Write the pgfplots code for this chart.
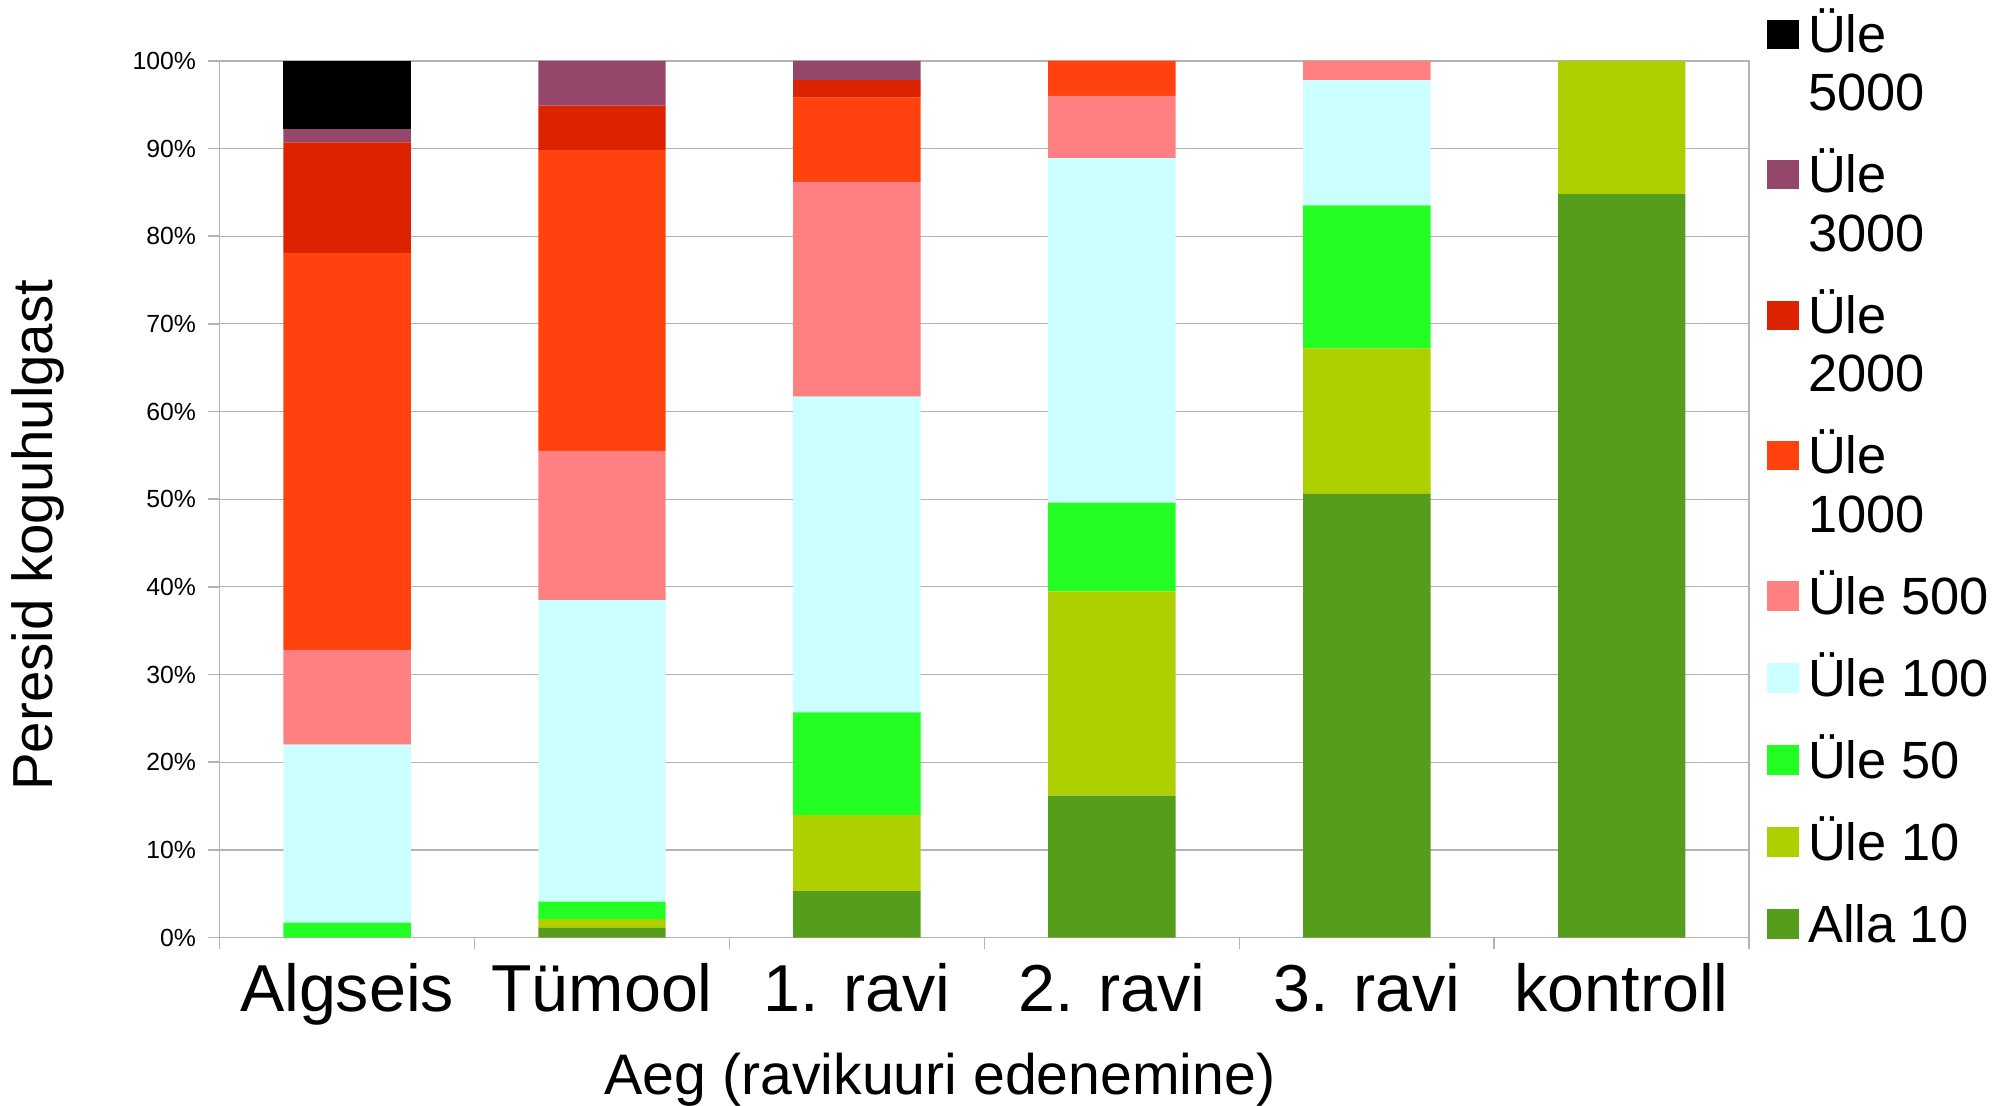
\documentclass[border=0pt]{standalone}
\usepackage{fontspec}
\setmainfont{Liberation Sans}
\usepackage{pgfplots}
\usepackage{pgfplotstable}
\pgfplotsset{compat=1.18}

\definecolor{c5000}{HTML}{000000}
\definecolor{c3000}{HTML}{94476B}
\definecolor{c2000}{HTML}{DC2300}
\definecolor{c1000}{HTML}{FF420E}
\definecolor{c500}{HTML}{FF8080}
\definecolor{c100}{HTML}{CCFFFF}
\definecolor{c50}{HTML}{23FF23}
\definecolor{c10}{HTML}{AECF00}
\definecolor{alla}{HTML}{579D1C}
\definecolor{gridc}{HTML}{B3B3B3}

% shares in percent, bottom (Alla 10) to top (Üle 5000)
\pgfplotstableread{
x alla u10  u50  u100 u500 u1000 u2000 u3000 u5000
0 0    0    1.7  20.3 10.8 45.3  12.6  1.5   7.8
1 1.1  1.0  2.0  34.4 17.0 34.3  5.1   5.1   0
2 5.3  8.7  11.7 36.0 24.5 9.6   2.0   2.2   0
3 16.2 23.3 10.1 39.3 7.1  4.0   0     0     0
4 50.6 16.6 16.3 14.3 2.2  0     0     0     0
5 84.8 15.2 0    0    0    0     0     0     0
}\data

% two-line legend text, first line on the baseline
\newcommand\two[2]{\vtop{\baselineskip=14.6pt\hbox{#1}\hbox{#2}}}
\pgfplotsset{sq/.style={legend image code/.code={\fill[##1,draw=none] (0pt,#1-3.65pt) rectangle (7.8pt,#1+3.65pt);}}}

\begin{document}
\begin{tikzpicture}
\useasboundingbox (0,0) rectangle (500.5pt,276.25pt);
\begin{axis}[
    at={(54.9pt,41.85pt)}, anchor=south west,
    scale only axis, width=382.4pt, height=219.2pt,
    xmin=-0.5, xmax=5.5, ymin=0, ymax=100,
    ybar stacked, bar width=0.5,
    every axis plot/.append style={draw=none},
    xtick={-0.5,0.5,...,5.5}, x tick label as interval,
    xticklabels={Algseis,Tümool,1. ravi,2. ravi,3. ravi,kontroll},
    ytick={0,10,...,100},
    yticklabels={0\%,10\%,20\%,30\%,40\%,50\%,60\%,70\%,80\%,90\%,100\%},
    ymajorgrids, major grid style={gridc, line width=0.3pt},
    axis line style={gridc, line width=0.4pt},
    tick style={gridc, line width=0.4pt},
    tick align=outside, major tick length=2.9pt, tick pos=left,
    xticklabel style={font=\fontsize{16.6}{19}\selectfont, anchor=base, yshift=-15.6pt, inner sep=0pt},
    yticklabel style={font=\fontsize{6.2}{7}\selectfont, anchor=east, xshift=-2.8pt, inner sep=0pt},
    xlabel={Aeg (ravikuuri edenemine)},
    xlabel style={font=\fontsize{14.3}{17}\selectfont, at={(axis description cs:0.471,-0.1793)}, anchor=base},
    ylabel={Peresid koguhulgast},
    ylabel style={font=\fontsize{14.1}{17}\selectfont, at={(axis description cs:-0.1185,0.459)}, anchor=center},
    reverse legend, legend cell align=left,
    legend style={at={(axis description cs:1.0113,1.0568)}, anchor=north west,
        draw=none, fill=none, inner sep=0pt, row sep=6.0pt, column sep=2.4pt,
        nodes={inner sep=0pt, text height=10.15pt, text depth=4.35pt},
        font=\fontsize{13.1}{14.6}\selectfont},
]
\addplot[fill=alla, sq=1.6pt] table[x=x,y=alla]{\data};
\addlegendentry{Alla 10}
\addplot[fill=c10, sq=1.6pt] table[x=x,y=u10]{\data};
\addlegendentry{Üle 10}
\addplot[fill=c50, sq=1.6pt] table[x=x,y=u50]{\data};
\addlegendentry{Üle 50}
\addplot[fill=c100, sq=1.6pt] table[x=x,y=u100]{\data};
\addlegendentry{Üle 100}
\addplot[fill=c500, sq=1.6pt] table[x=x,y=u500]{\data};
\addlegendentry{Üle 500}
\addplot[fill=c1000, sq=8.9pt] table[x=x,y=u1000]{\data};
\addlegendentry[text depth=18.95pt]{\two{Üle}{1000}}
\addplot[fill=c2000, sq=8.9pt] table[x=x,y=u2000]{\data};
\addlegendentry[text depth=18.95pt]{\two{Üle}{2000}}
\addplot[fill=c3000, sq=8.9pt] table[x=x,y=u3000]{\data};
\addlegendentry[text depth=18.95pt]{\two{Üle}{3000}}
\addplot[fill=c5000, sq=8.9pt] table[x=x,y=u5000]{\data};
\addlegendentry[text depth=18.95pt]{\two{Üle}{5000}}
\end{axis}
\end{tikzpicture}
\end{document}
